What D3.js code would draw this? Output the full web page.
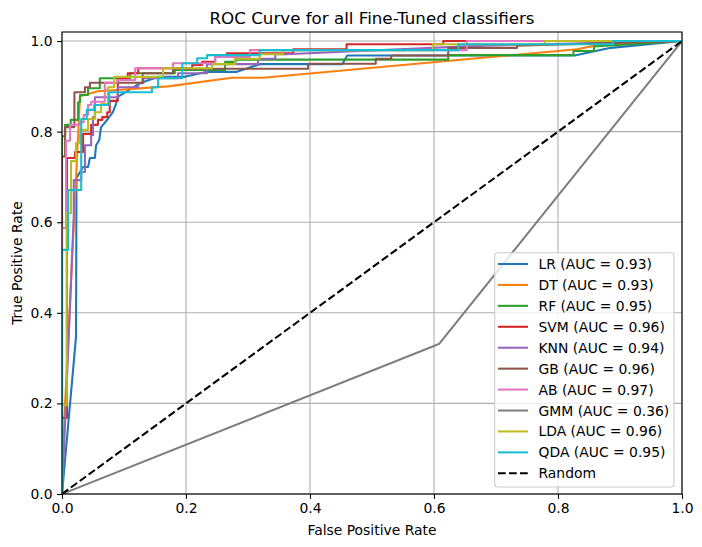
<!DOCTYPE html>
<html><head><meta charset="utf-8">
<script src="https://cdn.jsdelivr.net/npm/d3@7/dist/d3.min.js"></script>
<style>
body{margin:0;background:#fff;}
svg{display:block;font-family:"DejaVu Sans",sans-serif;}
</style></head>
<body>
<svg id="chart" width="702" height="547"></svg>
<script>
// ---- data ----
const modelNames = ["LR","DT","RF","SVM","KNN","GB","AB","GMM","LDA","QDA"];
const aucValues = ["0.93","0.93","0.95","0.96","0.94","0.96","0.97","0.36","0.96","0.95"];
const xTicks = [0,0.2,0.4,0.6,0.8,1.0];
const yTicks = [0,0.2,0.4,0.6,0.8,1.0];

const LR = [[0,0],[0.0226,0.347],[0.0234,0.698],[0.034,0.722],[0.042,0.722],[0.045,0.742],[0.053,0.742],[0.055,0.770],[0.060,0.781],[0.063,0.810],[0.074,0.828],[0.082,0.843],[0.087,0.861],[0.090,0.877],[0.113,0.896],[0.126,0.907],[0.155,0.921],[0.198,0.921],[0.234,0.932],[0.282,0.932],[0.319,0.949],[0.452,0.949],[0.460,0.968],[0.827,0.968],[0.885,0.985],[1,1]];
const DT = [[0,0],[0.004,0.17],[0.029,0.878],[0.058,0.889],[0.171,0.9],[0.274,0.919],[0.324,0.919],[0.831,0.982],[0.863,0.991],[1,1]];
const RF = [[0,0],[0,0.790],[0.005,0.790],[0.005,0.815],[0.014,0.815],[0.014,0.826],[0.026,0.826],[0.026,0.865],[0.029,0.865],[0.029,0.881],[0.042,0.881],[0.042,0.896],[0.061,0.896],[0.061,0.918],[0.110,0.918],[0.110,0.929],[0.182,0.929],[0.182,0.936],[0.263,0.936],[0.263,0.954],[0.280,0.954],[0.280,0.959],[0.623,0.959],[0.623,0.969],[0.825,0.969],[0.825,0.978],[0.858,0.978],[0.858,0.988],[1,1]];
const SVM = [[0,0],[0,0.168],[0.008,0.168],[0.008,0.742],[0.021,0.742],[0.021,0.755],[0.034,0.755],[0.034,0.795],[0.047,0.795],[0.047,0.815],[0.058,0.815],[0.058,0.826],[0.065,0.826],[0.065,0.832],[0.073,0.832],[0.073,0.843],[0.077,0.843],[0.077,0.868],[0.090,0.868],[0.090,0.918],[0.106,0.918],[0.106,0.929],[0.123,0.929],[0.123,0.940],[0.210,0.940],[0.210,0.947],[0.226,0.947],[0.226,0.954],[0.247,0.954],[0.247,0.965],[0.266,0.965],[0.266,0.973],[0.373,0.973],[0.373,0.982],[0.459,0.982],[0.459,0.993],[0.615,0.993],[0.615,1.0],[1,1]];
const KNN = [[0,0],[0.008,0.252],[0.019,0.616],[0.019,0.693],[0.031,0.693],[0.031,0.711],[0.037,0.711],[0.037,0.770],[0.047,0.770],[0.047,0.792],[0.050,0.792],[0.050,0.832],[0.053,0.832],[0.053,0.876],[0.090,0.876],[0.090,0.898],[0.123,0.898],[0.123,0.907],[0.131,0.907],[0.131,0.918],[0.187,0.918],[0.187,0.929],[0.234,0.929],[0.234,0.949],[0.316,0.949],[0.316,0.961],[0.344,0.961],[0.344,0.971],[0.36,0.971],[0.68,0.99],[1,1]];
const GB = [[0,0],[0,0.745],[0.005,0.745],[0.005,0.810],[0.020,0.810],[0.020,0.887],[0.037,0.887],[0.037,0.898],[0.045,0.898],[0.045,0.908],[0.130,0.908],[0.130,0.929],[0.179,0.929],[0.179,0.939],[0.397,0.939],[0.397,0.950],[0.506,0.950],[0.506,0.961],[0.531,0.961],[0.531,0.968],[0.623,0.968],[0.623,0.985],[0.734,0.985],[0.734,0.990],[1,1]];
const AB = [[0,0],[0,0.587],[0.0065,0.587],[0.0065,0.780],[0.013,0.780],[0.013,0.815],[0.029,0.815],[0.029,0.821],[0.035,0.821],[0.035,0.837],[0.042,0.837],[0.042,0.859],[0.047,0.859],[0.047,0.866],[0.069,0.866],[0.069,0.908],[0.089,0.908],[0.089,0.914],[0.118,0.914],[0.118,0.940],[0.179,0.940],[0.179,0.951],[0.247,0.951],[0.247,0.965],[0.303,0.965],[0.303,0.980],[0.653,0.980],[0.653,1.0],[1,1]];
const GMM = [[0,0],[0.608,0.331],[1,1]];
const LDA = [[0,0],[0,0.196],[0.0076,0.196],[0.0076,0.620],[0.0145,0.620],[0.0145,0.735],[0.0226,0.735],[0.0226,0.775],[0.029,0.775],[0.029,0.804],[0.042,0.804],[0.042,0.828],[0.053,0.828],[0.053,0.843],[0.063,0.843],[0.063,0.861],[0.074,0.861],[0.074,0.898],[0.084,0.898],[0.084,0.921],[0.163,0.921],[0.163,0.940],[0.242,0.940],[0.242,0.949],[0.279,0.949],[0.279,0.961],[0.319,0.961],[0.319,0.971],[0.356,0.971],[0.356,0.980],[0.598,0.980],[0.598,0.993],[0.779,0.993],[0.779,1.0],[1,1]];
const QDA = [[0,0],[0,0.539],[0.0097,0.539],[0.0097,0.671],[0.031,0.671],[0.031,0.828],[0.040,0.828],[0.040,0.848],[0.052,0.848],[0.052,0.859],[0.076,0.859],[0.076,0.887],[0.145,0.887],[0.145,0.898],[0.155,0.898],[0.155,0.918],[0.194,0.918],[0.194,0.951],[0.218,0.951],[0.218,0.962],[0.234,0.962],[0.234,0.969],[0.319,0.969],[0.319,0.980],[0.639,0.980],[0.639,0.993],[0.889,0.993],[0.889,1.0],[1,1]];
const RANDOM = [[0,0],[1,1]];

const curves = [LR,DT,RF,SVM,KNN,GB,AB,GMM,LDA,QDA];
const colors = ["#1f77b4","#ff7f0e","#2ca02c","#d62728","#9467bd","#8c564b","#e377c2","#7f7f7f","#bcbd22","#17becf"];

// ---- layout ----
const svg = d3.select("#chart");
const L = 62, R = 682, T = 32, B = 494;
const x = d3.scaleLinear().domain([0,1]).range([L,R]);
const y = d3.scaleLinear().domain([0,1.02]).range([B,T]);
const fs = 13.9;

svg.append("defs").append("clipPath").attr("id","clip")
  .append("rect").attr("x",L).attr("y",T).attr("width",R-L).attr("height",B-T);

// grid
const g = svg.append("g");
g.selectAll(".gx").data(xTicks).enter().append("line")
  .attr("x1",d=>x(d)).attr("x2",d=>x(d)).attr("y1",T).attr("y2",B)
  .attr("stroke","#b0b0b0").attr("stroke-width",1.1);
g.selectAll(".gy").data(yTicks).enter().append("line")
  .attr("x1",L).attr("x2",R).attr("y1",d=>y(d)).attr("y2",d=>y(d))
  .attr("stroke","#b0b0b0").attr("stroke-width",1.1);

// curves
const line = d3.line().x(d=>x(d[0])).y(d=>y(d[1]));
const plot = svg.append("g").attr("clip-path","url(#clip)");
curves.forEach((c,i)=>{
  plot.append("path").datum(c).attr("d",line)
    .attr("fill","none").attr("stroke",colors[i]).attr("stroke-width",2.08)
    .attr("stroke-linejoin","round");
});
plot.append("path").datum(RANDOM).attr("d",line)
  .attr("fill","none").attr("stroke","#000").attr("stroke-width",2.08)
  .attr("stroke-dasharray","7.7,3.3");

// axes
const xAxis = d3.axisBottom(x).tickValues(xTicks).tickFormat(d3.format(".1f")).tickSize(4.9).tickPadding(4.5);
const yAxis = d3.axisLeft(y).tickValues(yTicks).tickFormat(d3.format(".1f")).tickSize(4.9).tickPadding(4.5);
const ax = svg.append("g").attr("transform",`translate(0,${B})`).call(xAxis);
const ay = svg.append("g").attr("transform",`translate(${L},0)`).call(yAxis);
[ax,ay].forEach(a=>{
  a.select(".domain").remove();
  a.selectAll("line").attr("stroke","#000").attr("stroke-width",1.1);
  a.selectAll("text").attr("font-size",fs).attr("fill","#000").attr("font-family","DejaVu Sans");
});

// frame
svg.append("rect").attr("x",L).attr("y",T).attr("width",R-L).attr("height",B-T)
  .attr("fill","none").attr("stroke","#000").attr("stroke-width",1.1);

// labels
svg.append("text").attr("x",(L+R)/2).attr("y",24).attr("text-anchor","middle")
  .attr("font-size",16.7).text("ROC Curve for all Fine-Tuned classifiers");
svg.append("text").attr("x",(L+R)/2).attr("y",535).attr("text-anchor","middle")
  .attr("font-size",fs).text("False Positive Rate");
svg.append("text").attr("transform",`translate(22,${(T+B)/2}) rotate(-90)`).attr("text-anchor","middle")
  .attr("font-size",fs).text("True Positive Rate");

// legend
const labels = modelNames.map((n,i)=>`${n} (AUC = ${aucValues[i]})`).concat(["Random"]);
const lg = svg.append("g");
lg.append("rect").attr("x",494.7).attr("y",252.7).attr("width",179.3).attr("height",234.3)
  .attr("rx",3).attr("fill","#fff").attr("fill-opacity",0.8).attr("stroke","#cccccc").attr("stroke-width",1.1);
labels.forEach((lab,i)=>{
  const cy = 264 + i*20.93;
  lg.append("line").attr("x1",498).attr("x2",528).attr("y1",cy).attr("y2",cy)
    .attr("stroke", i<10 ? colors[i] : "#000").attr("stroke-width",2.08)
    .attr("stroke-dasharray", i<10 ? null : "7.7,3.3");
  lg.append("text").attr("x",538.5).attr("y",cy+5).attr("font-size",fs).text(lab);
});
</script>
</body></html>
